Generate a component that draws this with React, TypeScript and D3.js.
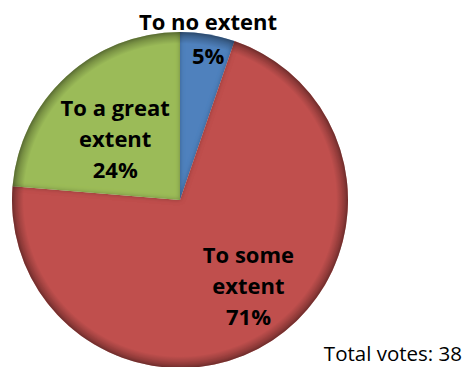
import React from "react";
import * as d3 from "d3";

const categories = ["To no extent", "To some extent", "To a great extent"];
const votes = [2, 27, 9];
const percentLabels = ["5%", "71%", "24%"];
const colors = ["#4F81BD", "#C0504D", "#9BBB59"];
const totalLabel = "Total votes: 38";

const W = 465;
const H = 367;
const cx = 180;
const cy = 200;
const R = 168;
const FONT = "'Open Sans', Lato, sans-serif";

// label layout: radius fraction for centroid, then offset of first baseline
const labelLayout = [
  { r: 0.80, lines: [percentLabels[0]], dx: 6, dy: -3 },
  { r: 0.68, lines: ["To some", "extent", percentLabels[1]], dx: 6, dy: -33 },
  { r: 0.49, lines: ["To a great", "extent", percentLabels[2]], dx: -9, dy: -23 },
];

export default function App() {
  const pie = d3.pie<number>().sort(null).value((d) => d);
  const arcs = pie(votes);
  const arc = d3.arc<d3.PieArcDatum<number>>().innerRadius(0).outerRadius(R);
  const lineH = 31;

  return (
    <svg
      width={W}
      height={H}
      style={{ position: "fixed", left: 0, top: 0, background: "#fff" }}
    >
      <defs>
        <filter id="bevel" x="-10%" y="-10%" width="120%" height="120%">
          <feFlood floodColor="#000" floodOpacity="0.55" result="flood" />
          <feComposite in="flood" in2="SourceAlpha" operator="out" result="outside" />
          <feGaussianBlur in="outside" stdDeviation="2.5" result="blur" />
          <feComposite in="blur" in2="SourceAlpha" operator="in" result="shadow" />
          <feMerge>
            <feMergeNode in="SourceGraphic" />
            <feMergeNode in="shadow" />
          </feMerge>
        </filter>
        <radialGradient id="rim" cx="0.5" cy="0.5" r="0.5">
          <stop offset="0.93" stopColor="#000" stopOpacity="0" />
          <stop offset="1" stopColor="#000" stopOpacity="0.35" />
        </radialGradient>
      </defs>
      <g transform={`translate(${cx},${cy})`}>
        {arcs.map((a, i) => (
          <path key={categories[i]} d={arc(a) || ""} fill={colors[i]} filter="url(#bevel)" />
        ))}
        <circle r={R} fill="url(#rim)" />
        {arcs.map((a, i) => {
          const L = labelLayout[i];
          const mid = (a.startAngle + a.endAngle) / 2;
          const x = Math.sin(mid) * R * L.r + L.dx;
          const y = -Math.cos(mid) * R * L.r + L.dy;
          return (
            <text
              key={"l" + i}
              x={x}
              y={y}
              textAnchor="middle"
              fontFamily={FONT}
              fontWeight="bold"
              fontSize={22}
              fill="#000"
            >
              {L.lines.map((t, j) => (
                <tspan key={j} x={x} dy={j === 0 ? 0 : lineH}>
                  {t}
                </tspan>
              ))}
            </text>
          );
        })}
      </g>
      <text
        x={208}
        y={30}
        textAnchor="middle"
        fontFamily={FONT}
        fontWeight="bold"
        fontSize={22}
        fill="#000"
      >
        {categories[0]}
      </text>
      <text x={462} y={361} textAnchor="end" fontFamily={FONT} fontSize={20.5} fill="#000">
        {totalLabel}
      </text>
    </svg>
  );
}
